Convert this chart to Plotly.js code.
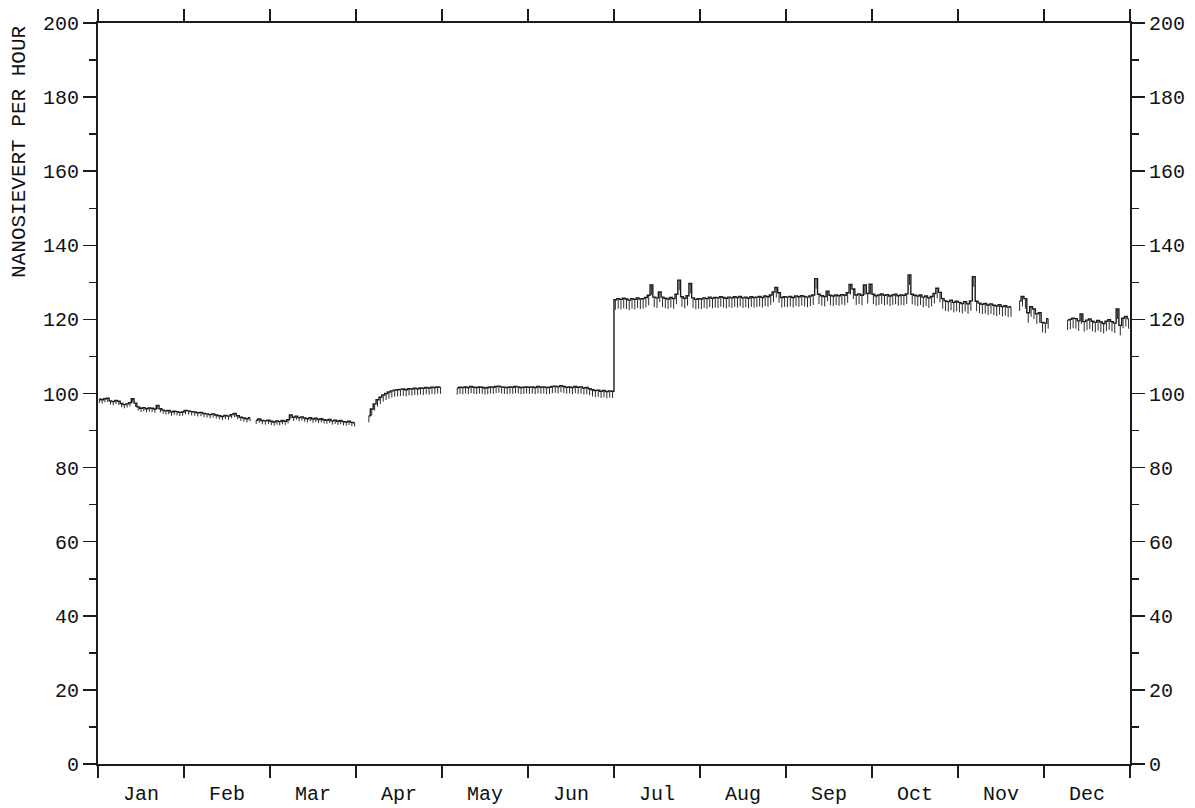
<!DOCTYPE html>
<html>
<head>
<meta charset="utf-8">
<script src="https://cdn.plot.ly/plotly-3.0.1.min.js"></script>
<style>
  html, body { margin: 0; padding: 0; background: #ffffff; }
  #chart { width: 1195px; height: 808px; }
</style>
</head>
<body>
<div id="chart"></div>
<script>
// Month labels
const months = ["Jan","Feb","Mar","Apr","May","Jun","Jul","Aug","Sep","Oct","Nov","Dec"];
// Daily dose rate readings (nSv/h), null = no data
const jan = [98.5,98.3,98.6,98.7,98.0,97.8,98.1,97.9,97.3,97.0,97.2,97.5,98.6,97.4,96.4,96.0,96.2,95.9,96.1,96.0,95.8,96.8,95.9,95.5,95.3,95.4,95.0,95.2,95.1,94.9,95.0];
const feb = [95.4,95.3,95.1,95.0,94.8,94.9,94.6,94.5,94.3,94.5,94.2,94.0,93.8,94.1,93.9,94.3,94.6,94.0,93.6,93.4,93.2,93.5,null,92.8,93.1,92.7,92.6,92.8];
const mar = [92.5,92.3,92.6,92.4,92.7,92.5,92.9,94.2,93.6,93.9,93.5,93.7,93.4,93.2,93.5,93.1,93.3,93.0,93.2,92.9,92.8,93.0,92.6,92.8,92.5,92.7,92.4,92.3,92.5,92.2,92.1];
const apr = [null,null,null,null,94.0,95.8,97.2,98.3,99.0,99.6,100.0,100.4,100.7,100.9,101.0,101.1,101.2,101.0,101.3,101.2,101.4,101.3,101.5,101.4,101.6,101.5,101.7,101.6,101.8,101.7];
const may = [null,null,null,null,null,101.5,101.7,101.6,101.8,101.6,101.9,101.7,101.6,101.8,101.7,101.5,101.6,101.8,101.7,101.9,102.0,101.8,101.7,101.6,101.8,101.7,101.9,101.8,101.6,101.7,101.8];
const jun = [101.7,101.8,101.6,101.9,101.7,101.8,101.6,101.7,101.9,102.0,101.8,102.1,101.9,101.7,101.8,101.6,101.9,101.7,101.8,101.5,101.6,101.3,101.0,100.8,100.9,100.6,100.8,100.5,100.7,100.6];
const jul = [125.3,125.6,125.4,125.7,125.5,125.2,125.6,125.4,125.8,125.5,125.6,125.9,126.5,129.3,126.0,125.8,127.4,126.0,125.7,125.5,125.9,125.6,126.8,130.6,126.1,125.7,126.4,129.7,125.8,125.4,125.6];
const aug = [125.5,125.8,125.6,126.0,125.7,125.9,125.8,126.1,125.9,125.7,126.0,125.8,126.1,125.9,126.2,125.8,126.0,125.7,126.1,125.9,126.0,126.2,125.9,126.3,126.1,126.6,127.4,128.6,127.2,125.9,126.1];
const sep = [126.0,126.2,125.9,126.3,126.1,126.4,126.2,126.0,126.3,126.6,131.0,126.8,126.4,126.2,127.6,126.5,126.3,126.6,126.4,126.7,126.5,127.2,129.4,128.2,126.6,126.9,126.5,129.3,127.0,129.5];
const oct = [126.8,126.4,126.6,126.9,126.5,126.7,126.3,126.6,126.8,126.4,126.6,126.5,126.9,132.0,126.8,126.5,126.3,126.6,126.0,126.3,125.8,126.2,127.0,128.4,127.3,125.6,125.0,124.8,125.2,124.6,124.9];
const nov = [124.6,124.3,124.8,124.2,125.0,131.5,124.9,124.4,124.1,124.3,123.9,124.2,123.8,123.6,124.0,123.5,123.7,123.3,123.4,null,null,125.0,126.2,125.6,121.8,123.4,122.8,121.5,121.8,119.2];
const dec = [119.0,120.2,null,null,null,null,null,null,119.8,120.0,120.3,120.2,119.6,121.5,119.4,119.8,120.1,119.5,119.2,119.7,119.3,118.9,119.5,119.9,119.4,119.0,122.8,118.4,120.3,120.8,120.2];
// Y tick values
const yTicks = [0,20,40,60,80,100,120,140,160,180,200];

const monthData = [jan,feb,mar,apr,may,jun,jul,aug,sep,oct,nov,dec];

function build(fromM, toM) {
  const xs = [], ys = [];
  for (let m = fromM; m <= toM; m++) {
    const arr = monthData[m];
    for (let d = 0; d < arr.length; d++) {
      xs.push(m + (d + 0.5) / arr.length);
      ys.push(arr[d]);
    }
  }
  return {xs, ys};
}

const all = build(0, 11);
const q1 = build(0, 2);
const q2 = build(3, 5);
const h2 = build(6, 11);

const ink = '#1c1c1c';
const fontFam = '"Liberation Mono", "DejaVu Sans Mono", monospace';

function tickTrace(d, len, xa, ya) {
  return {
    x: d.xs, y: d.ys, xaxis: xa, yaxis: ya,
    type: 'scatter', mode: 'markers',
    marker: {size: 1, color: 'rgba(0,0,0,0)'},
    error_y: {type: 'constant', symmetric: false, value: 0, valueminus: len,
              color: '#2a2a2a', thickness: 1, width: 0},
    hoverinfo: 'skip', showlegend: false
  };
}

const traces = [
  {
    x: all.xs, y: all.ys, type: 'scatter', mode: 'lines',
    line: {color: ink, width: 1.4, shape: 'hvh'},
    connectgaps: false, hoverinfo: 'skip', showlegend: false
  },
  tickTrace(q1, 1.0, 'x', 'y'),
  tickTrace(q2, 1.8, 'x', 'y'),
  tickTrace(h2, 2.7, 'x2', 'y2')
];

const boundaries = [];
for (let i = 0; i <= 12; i++) boundaries.push(i);
const centers = months.map((_, i) => i + 0.5);

const yCommon = {
  range: [0, 200], tickvals: yTicks, ticks: 'outside', ticklen: 13, tickwidth: 1.5,
  tickcolor: ink, showline: true, linecolor: ink, linewidth: 2,
  showgrid: false, zeroline: false,
  tickfont: {family: fontFam, size: 20, color: '#111'},
  minor: {dtick: 10, ticks: 'outside', ticklen: 7, tickwidth: 1.5, tickcolor: ink, showgrid: false},
  fixedrange: true
};

const layout = {
  width: 1195, height: 808,
  margin: {l: 98, r: 65, t: 23, b: 44},
  paper_bgcolor: '#ffffff', plot_bgcolor: '#ffffff',
  showlegend: false,
  xaxis: {
    range: [0, 12], tickvals: boundaries, ticks: 'outside', ticklen: 12, tickwidth: 1.5,
    tickcolor: ink, showticklabels: false, showline: true, linecolor: ink, linewidth: 2,
    mirror: 'ticks', showgrid: false, zeroline: false, fixedrange: true
  },
  xaxis2: {
    range: [0, 12], overlaying: 'x', side: 'bottom', anchor: 'y',
    tickvals: centers, ticktext: months, ticks: 'outside', ticklen: 11,
    tickcolor: 'rgba(0,0,0,0)', showline: false, showgrid: false, zeroline: false,
    tickfont: {family: fontFam, size: 20, color: '#111'}, fixedrange: true
  },
  yaxis: Object.assign({}, yCommon, {side: 'left'}),
  yaxis2: Object.assign({}, yCommon, {side: 'right', overlaying: 'y', anchor: 'x'}),
  annotations: [{
    text: 'NANOSIEVERT PER HOUR', textangle: -90,
    xref: 'paper', yref: 'paper', x: -0.0756, y: 0.826,
    xanchor: 'center', yanchor: 'middle', showarrow: false,
    font: {family: fontFam, size: 21, color: '#111'}
  }]
};

Plotly.newPlot('chart', traces, layout, {displayModeBar: false, staticPlot: true});
</script>
</body>
</html>
